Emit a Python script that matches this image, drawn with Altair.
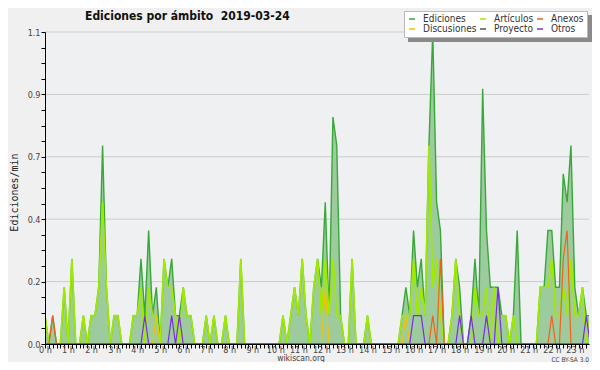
import altair as alt
import pandas as pd

# Edits per minute in 10-minute bins, 0:00 ... 23:40
ediciones = [
    0.1, 0, 0.1, 0, 0, 0.2, 0, 0.3, 0, 0,
    0.1, 0, 0.1, 0.1, 0.2, 0.7, 0.2, 0, 0.1, 0.1,
    0, 0, 0, 0.1, 0.1, 0.3, 0.1, 0.4, 0.1, 0.2,
    0, 0.3, 0.2, 0.3, 0.1, 0.1, 0.2, 0.1, 0.1, 0,
    0, 0, 0.1, 0, 0.1, 0, 0, 0.1, 0, 0,
    0, 0.3, 0, 0, 0, 0, 0, 0, 0, 0,
    0, 0, 0.1, 0, 0.1, 0.2, 0.1, 0.3, 0.1, 0,
    0.2, 0.3, 0.2, 0.5, 0.1, 0.8, 0.7, 0.1, 0, 0,
    0.3, 0, 0, 0, 0.1, 0, 0, 0, 0, 0,
    0, 0, 0, 0.1, 0.2, 0.1, 0.4, 0.2, 0.3, 0.1,
    0.7, 1.1, 0.5, 0.4, 0, 0, 0.1, 0.3, 0.2, 0,
    0, 0.1, 0.3, 0.1, 0.9, 0.4, 0.2, 0.2, 0.2, 0.1,
    0.1, 0, 0.1, 0.4, 0, 0, 0, 0, 0, 0.2,
    0.2, 0.4, 0.4, 0.2, 0.2, 0.6, 0.5, 0.7, 0.2, 0.1,
    0.2, 0.1, 0.1,
]
articulos = [
    0.1, 0, 0, 0, 0, 0.2, 0, 0.3, 0, 0,
    0.1, 0, 0.1, 0.1, 0.2, 0.5, 0.2, 0, 0.1, 0.1,
    0, 0, 0, 0.1, 0.1, 0.2, 0, 0.2, 0.1, 0.1,
    0, 0.3, 0.2, 0.2, 0.1, 0, 0.2, 0.1, 0.1, 0,
    0, 0, 0.1, 0, 0.1, 0, 0, 0.1, 0, 0,
    0, 0.3, 0, 0, 0, 0, 0, 0, 0, 0,
    0, 0, 0.1, 0, 0.1, 0.2, 0.1, 0.3, 0.1, 0,
    0.2, 0.3, 0.1, 0.3, 0.1, 0.3, 0.1, 0.1, 0, 0,
    0.3, 0, 0, 0, 0.1, 0, 0, 0, 0, 0,
    0, 0, 0, 0.1, 0.1, 0.1, 0.3, 0.1, 0.2, 0.1,
    0.7, 0.2, 0.3, 0.1, 0, 0, 0.1, 0.3, 0.1, 0,
    0, 0, 0.2, 0.1, 0.1, 0.2, 0, 0.2, 0, 0.1,
    0.1, 0, 0.1, 0, 0, 0, 0, 0, 0, 0.2,
    0.2, 0.2, 0.3, 0.1, 0.1, 0.2, 0.1, 0.3, 0.1, 0.1,
    0.2, 0, 0.1,
]
anexos = [
    0, 0, 0.1, 0, 0, 0, 0, 0, 0, 0,
    0, 0, 0, 0, 0, 0, 0, 0, 0, 0,
    0, 0, 0, 0, 0, 0, 0, 0, 0, 0,
    0, 0, 0, 0, 0, 0, 0, 0, 0, 0,
    0, 0, 0, 0, 0, 0, 0, 0, 0, 0,
    0, 0, 0, 0, 0, 0, 0, 0, 0, 0,
    0, 0, 0, 0, 0, 0, 0, 0, 0, 0,
    0, 0, 0, 0, 0, 0, 0, 0, 0, 0,
    0, 0, 0, 0, 0, 0, 0, 0, 0, 0,
    0, 0, 0, 0, 0, 0, 0, 0, 0, 0,
    0, 0.1, 0, 0.3, 0, 0, 0, 0, 0, 0,
    0, 0, 0, 0, 0, 0, 0, 0, 0, 0,
    0, 0, 0, 0, 0, 0, 0, 0, 0, 0,
    0, 0, 0.1, 0, 0, 0.3, 0.4, 0, 0, 0,
    0, 0, 0,
]
discusiones = [
    0, 0, 0, 0, 0, 0, 0, 0, 0, 0,
    0, 0, 0, 0, 0, 0, 0, 0, 0, 0,
    0, 0, 0, 0, 0, 0, 0, 0, 0, 0.1,
    0, 0, 0, 0, 0, 0, 0, 0, 0, 0,
    0, 0, 0, 0, 0, 0, 0, 0, 0, 0,
    0, 0, 0, 0, 0, 0, 0, 0, 0, 0,
    0, 0, 0, 0, 0, 0, 0, 0, 0, 0,
    0, 0, 0, 0.2, 0, 0, 0, 0, 0, 0,
    0, 0, 0, 0, 0, 0, 0, 0, 0, 0,
    0, 0, 0, 0, 0.1, 0, 0, 0, 0, 0,
    0, 0, 0, 0, 0, 0, 0, 0, 0, 0,
    0, 0, 0, 0, 0, 0, 0, 0, 0, 0,
    0, 0, 0, 0, 0, 0, 0, 0, 0, 0,
    0, 0, 0, 0, 0, 0, 0, 0, 0, 0,
    0, 0, 0,
]
proyecto = [0] * 143
otros = [
    0, 0, 0, 0, 0, 0, 0, 0, 0, 0,
    0, 0, 0, 0, 0, 0, 0, 0, 0, 0,
    0, 0, 0, 0, 0, 0, 0.1, 0, 0, 0,
    0, 0, 0, 0.1, 0, 0.1, 0, 0, 0, 0,
    0, 0, 0, 0, 0, 0, 0, 0, 0, 0,
    0, 0, 0, 0, 0, 0, 0, 0, 0, 0,
    0, 0, 0, 0, 0, 0, 0, 0, 0, 0,
    0, 0, 0, 0, 0, 0, 0, 0, 0, 0,
    0, 0, 0, 0, 0, 0, 0, 0, 0, 0,
    0, 0, 0, 0, 0, 0, 0.1, 0.1, 0.1, 0,
    0, 0, 0, 0, 0, 0, 0, 0, 0.1, 0,
    0, 0.1, 0, 0, 0, 0.1, 0, 0, 0.2, 0,
    0, 0, 0, 0, 0, 0, 0, 0, 0, 0,
    0, 0, 0, 0, 0, 0, 0, 0, 0, 0,
    0, 0.1, 0,
]

# legend is filled column by column: (Ediciones, Discusiones) (Artículos, Proyecto) (Anexos, Otros)
series_names = ["Ediciones", "Discusiones", "Artículos", "Proyecto", "Anexos", "Otros"]
series_colors = ["#38a838", "#f2c400", "#a0ea00", "#555555", "#f2621a", "#7a2ee2"]
series_values = {
    "Ediciones": ediciones, "Artículos": articulos, "Anexos": anexos,
    "Discusiones": discusiones, "Proyecto": proyecto, "Otros": otros,
}
draw_order = ["Ediciones", "Artículos", "Discusiones", "Anexos", "Proyecto", "Otros"]
stroke_w = {"Ediciones": 1.4, "Artículos": 1.7, "Discusiones": 1.2, "Anexos": 1.2,
            "Proyecto": 1.2, "Otros": 1.2}

grid_values = [0.22, 0.44, 0.66, 0.88, 1.1]
y_tick_values = [round(k * 0.055, 3) for k in range(21)]
x_tick_values = list(range(0, 1420, 10))

minutes = [i * 10 for i in range(len(ediciones))]
rows = []
for name in series_names:
    for m, v in zip(minutes, series_values[name]):
        rows.append({"min": m, "serie": name, "v": v})
long_df = pd.DataFrame(rows)
total_df = pd.DataFrame({"min": minutes, "v": ediciones})

SMALL = "DejaVu Sans Condensed, DejaVu Sans"

xscale = alt.Scale(domain=[0, 1417], nice=False, zero=False)
yscale = alt.Scale(domain=[0, 1.1], nice=False)
cscale = alt.Scale(domain=series_names, range=series_colors)

xaxis = alt.Axis(
    values=x_tick_values, title=None, grid=False, zindex=1,
    labelExpr="datum.value % 60 == 0 ? (datum.value / 60) + ' h' : ''",
    labelOverlap=False, labelFlush=False, labelBound=False,
    labelFont=SMALL, labelFontSize=9, labelColor="#444444",
    labelBaseline="alphabetic", labelPadding=4,
    tickSize=4, tickColor="#000000", domainColor="#000000", domainWidth=1,
)
yaxis = alt.Axis(
    values=y_tick_values, grid=False, zindex=1,
    labelExpr="abs(datum.value / 0.22 - round(datum.value / 0.22)) < 0.01 ? format(datum.value, '.1f') : ''",
    labelOverlap=False, labelFont=SMALL, labelFontSize=9, labelColor="#444444",
    labelPadding=1, tickSize=4, tickColor="#000000", domainColor="#000000",
    title="Ediciones/min", titleFont="DejaVu Sans Mono", titleFontSize=10,
    titleFontWeight="normal", titleColor="#222222", titleAngle=270,
    titleX=-31, titleY=160, titleAlign="center", titleBaseline="middle",
)

x_enc = alt.X("min:Q", scale=xscale, axis=xaxis)
y_enc = alt.Y("v:Q", scale=yscale, axis=yaxis)

legend = alt.Legend(
    title=None, orient="none", legendX=359, legendY=-21, columns=3,
    symbolType="stroke", symbolSize=36, symbolStrokeWidth=1.5,
    labelFont=SMALL, labelFontSize=10, labelColor="#333333", labelLimit=200,
    labelOffset=6, columnPadding=0, rowPadding=0, padding=3,
    fillColor="#ffffff", strokeColor="#bbbbbb",
)

grid = alt.Chart(pd.DataFrame({"g": grid_values})).mark_rule(
    color="#cccccc", strokeWidth=1
).encode(y=alt.Y("g:Q", scale=yscale, axis=yaxis))

area = alt.Chart(total_df).mark_area(
    color="#9ecb9e", opacity=1, clip=True, interpolate="linear"
).encode(x=x_enc, y=y_enc)

lines = []
for name in draw_order:
    lines.append(
        alt.Chart(long_df[long_df["serie"] == name]).mark_line(
            strokeWidth=stroke_w[name], clip=True, interpolate="linear"
        ).encode(
            x=x_enc, y=y_enc,
            color=alt.Color("serie:N", scale=cscale, legend=legend),
        )
    )

shadow = alt.Chart(pd.DataFrame({"a": [0]})).mark_rect(color="#8a8a8a").encode(
    x=alt.value(363), x2=alt.value(549), y=alt.value(-17), y2=alt.value(10)
)

title_text = "Ediciones por ámbito\u00a0\u00a02019-03-24"
title = alt.Chart(pd.DataFrame({"t": [title_text]})).mark_text(
    align="left", baseline="alphabetic", font=SMALL, fontSize=12,
    fontWeight="bold", color="#111111"
).encode(text="t:N", x=alt.value(40), y=alt.value(-12))

site = alt.Chart(pd.DataFrame({"t": ["wikiscan.org"]})).mark_text(
    align="center", baseline="alphabetic", font=SMALL, fontSize=8.5, color="#444444"
).encode(text="t:N", x=alt.value(256), y=alt.value(329))

lic = alt.Chart(pd.DataFrame({"t": ["CC BY-SA 3.0"]})).mark_text(
    align="right", baseline="alphabetic", font=SMALL, fontSize=6.5, color="#444444"
).encode(text="t:N", x=alt.value(544), y=alt.value(329.5))

chart = alt.layer(grid, area, *lines, shadow, title, site, lic).properties(
    width=544, height=312,
    autosize=alt.AutoSizeParams(type="none"),
    padding={"left": 37, "top": 24, "right": 3, "bottom": 18},
    background="#f0f0f0",
).configure_view(fill="#eef0f2", strokeWidth=0)

chart.save("out.html", embed_options={"renderer": "svg", "actions": False})
